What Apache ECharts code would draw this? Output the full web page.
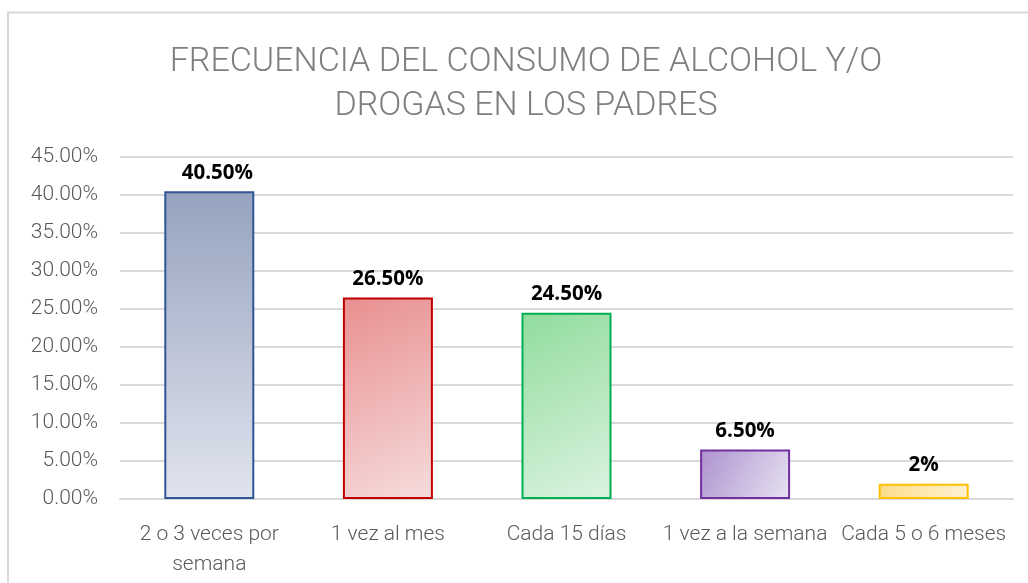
<!DOCTYPE html>
<html>
<head>
<meta charset="utf-8">
<script src="https://cdn.jsdelivr.net/npm/echarts@6/dist/echarts.min.js"></script>
<style>
html,body{margin:0;padding:0;background:#fff;}
#chart{width:1028px;height:583px;}
</style>
</head>
<body>
<div id="chart"></div>
<script>
const titleLines = ['FRECUENCIA DEL CONSUMO DE ALCOHOL Y/O', 'DROGAS EN LOS PADRES'];
const categories = ['2 o 3 veces por\nsemana', '1 vez al mes', 'Cada 15 días', '1 vez a la semana', 'Cada 5 o 6 meses'];
const values = [40.5, 26.5, 24.5, 6.5, 2];
const valueLabels = ['40.50%', '26.50%', '24.50%', '6.50%', '2%'];

const LG = echarts.graphic.LinearGradient;
const fills = [
  new LG(0, 0, 0, 1, [{offset:0,color:'#96a3bf'},{offset:1,color:'#e0e4ed'}]),
  new LG(0, 0, 1, 1, [{offset:0,color:'#e98f90'},{offset:1,color:'#f6dcdc'}]),
  new LG(0, 0, 1, 1, [{offset:0,color:'#91dc9e'},{offset:1,color:'#dcf3e0'}]),
  new LG(0, 0, 1, 1, [{offset:0,color:'#ad92cf'},{offset:1,color:'#e8e2f1'}]),
  new LG(0, 0, 1, 1, [{offset:0,color:'#fcdc88'},{offset:1,color:'#fff2d4'}])
];
const borders = ['#2f5597', '#c00000', '#00b050', '#7030a0', '#ffc000'];
const labelOffsets = [[8, 0], [0, 0], [0, 0], [0, 0], [0, 0]];

const titleStyle = {
  fill: '#7f7f7f',
  fontFamily: 'Roboto',
  fontWeight: 300,
  fontSize: 34,
  align: 'center',
  verticalAlign: 'middle'
};

const chart = echarts.init(document.getElementById('chart'));
chart.setOption({
  animation: false,
  backgroundColor: '#ffffff',
  graphic: [{
    type: 'rect',
    shape: {x: 8, y: 12.5, width: 1030, height: 600},
    style: {fill: 'none', stroke: '#d9d9d9', lineWidth: 2},
    silent: true, z: -10
  }].concat(titleLines.map((t, i) => ({
    type: 'text',
    x: 526,
    y: 62 + i * 44,
    silent: true,
    style: Object.assign({text: t}, titleStyle)
  }))),
  grid: {left: 120, right: 15, top: 157, bottom: 84, containLabel: false},
  xAxis: {
    type: 'category',
    data: categories,
    axisLine: {lineStyle: {color: '#d9d9d9', width: 2}},
    axisTick: {show: false},
    axisLabel: {
      color: '#595959',
      fontFamily: 'Roboto',
      fontWeight: 300,
      fontSize: 21,
      lineHeight: 30,
      margin: 21,
      interval: 0
    }
  },
  yAxis: {
    type: 'value',
    min: 0,
    max: 45,
    interval: 5,
    axisLine: {show: false},
    axisTick: {show: false},
    splitLine: {lineStyle: {color: '#d9d9d9', width: 2}},
    axisLabel: {
      color: '#595959',
      fontFamily: 'Roboto',
      fontWeight: 300,
      fontSize: 21,
      margin: 22,
      formatter: v => v.toFixed(2) + '%'
    }
  },
  series: [{
    type: 'bar',
    barWidth: 90,
    data: values.map((v, i) => ({
      value: v,
      itemStyle: {color: fills[i], borderColor: borders[i], borderWidth: 2},
      label: {formatter: valueLabels[i], offset: labelOffsets[i]}
    })),
    label: {
      show: true,
      position: 'top',
      distance: 8,
      color: '#000000',
      fontFamily: 'Open Sans',
      fontWeight: 'bold',
      fontSize: 20.5
    }
  }]
});
</script>
</body>
</html>
